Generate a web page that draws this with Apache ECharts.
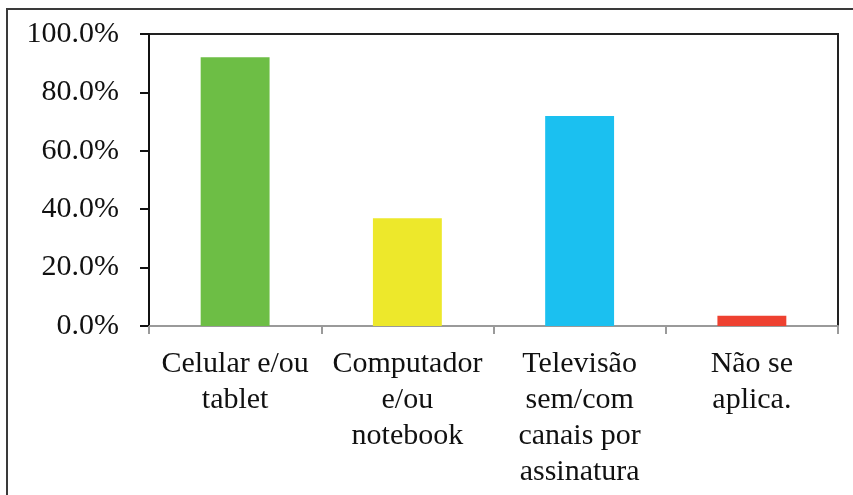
<!DOCTYPE html>
<html>
<head>
<meta charset="utf-8">
<script src="https://cdn.jsdelivr.net/npm/echarts@6/dist/echarts.min.js"></script>
<style>
  html, body { margin: 0; padding: 0; background: #fff; }
  #chart { width: 853px; height: 495px; }
</style>
</head>
<body>
<div id="chart"></div>
<script>
// categorias e valores
var categories = [
  'Celular e/ou\ntablet',
  'Computador\ne/ou\nnotebook',
  'Televisão\nsem/com\ncanais por\nassinatura',
  'Não se\naplica.'
];
var values = [92.0, 36.9, 71.9, 3.5];
var barColors = ['#6DBE45', '#EDE82B', '#1BC0F0', '#EE4130'];
var yTicks = [0, 20, 40, 60, 80, 100];

var chart = echarts.init(document.getElementById('chart'));

chart.setOption({
  animation: false,
  backgroundColor: '#fff',
  textStyle: { fontFamily: 'Liberation Serif' },
  graphic: [{
    type: 'rect',
    shape: { x: 7, y: 9, width: 870, height: 520 },
    style: { fill: 'none', stroke: '#3a3a3a', lineWidth: 2 },
    silent: true
  }],
  grid: {
    left: 149, right: 15, top: 34, bottom: 169,
    show: true,
    borderColor: '#222',
    borderWidth: 2
  },
  xAxis: {
    type: 'category',
    data: categories,
    axisLine: { lineStyle: { color: '#9a9a9a', width: 2 } },
    axisTick: { show: true, length: 8, lineStyle: { color: '#9a9a9a', width: 2 } },
    axisLabel: {
      color: '#111',
      fontSize: 30,
      lineHeight: 36,
      margin: 20,
      interval: 0,
      fontFamily: 'Liberation Serif'
    }
  },
  yAxis: {
    type: 'value',
    min: yTicks[0],
    max: yTicks[yTicks.length - 1],
    interval: 20,
    splitLine: { show: false },
    axisLine: { show: true, lineStyle: { color: '#111', width: 2 } },
    axisTick: { show: true, length: 9, lineStyle: { color: '#111', width: 2 } },
    axisLabel: {
      color: '#111',
      fontSize: 30,
      margin: 30,
      padding: [4, 0, 0, 0],
      fontFamily: 'Liberation Serif',
      formatter: function (v) { return v.toFixed(1) + '%'; }
    }
  },
  series: [{
    type: 'bar',
    barWidth: '40%',
    data: values.map(function (v, i) {
      return { value: v, itemStyle: { color: barColors[i] } };
    })
  }]
});
</script>
</body>
</html>
